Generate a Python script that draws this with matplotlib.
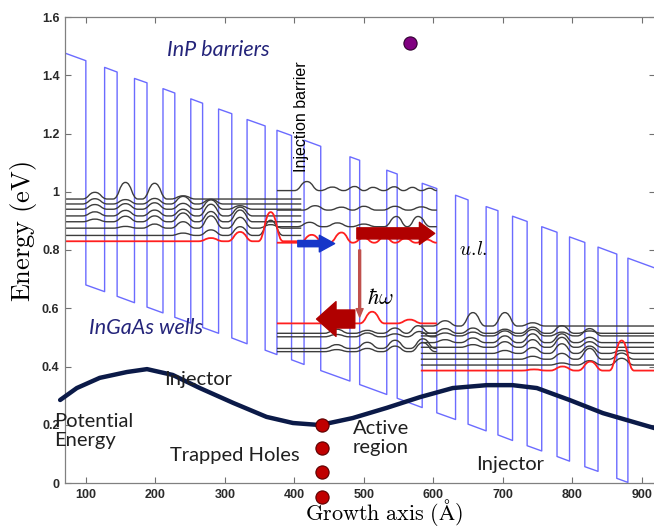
import matplotlib
matplotlib.use('Agg')
import matplotlib.pyplot as plt
from matplotlib.path import Path
from matplotlib.patches import PathPatch, FancyArrowPatch

plt.rcParams['mathtext.fontset'] = 'cm'

# conduction band: layer interfaces (A) and band bottom at each interface (eV)
edge_x = [70, 100, 127, 145, 170, 188, 211, 228, 251, 268, 291, 310, 332, 358, 375, 396, 414,
          438, 480, 494, 533, 548, 584, 605, 632, 650, 676, 693, 714, 735, 756, 778, 796, 818,
          837, 864, 880, 919]
edge_E = [0.706, 0.680, 0.657, 0.641, 0.619, 0.604, 0.584, 0.569, 0.549, 0.534, 0.514, 0.498,
          0.478, 0.456, 0.441, 0.423, 0.407, 0.386, 0.350, 0.338, 0.304, 0.291, 0.259, 0.241,
          0.218, 0.202, 0.179, 0.165, 0.146, 0.128, 0.110, 0.091, 0.075, 0.056, 0.040, 0.016,
          0.002, -0.032]
barrier_height = 0.77

# injector states on the left (baseline energy + peaks)
left_span = (70, 410)
left_levels = [0.975, 0.958, 0.940, 0.917, 0.897, 0.875, 0.850]
left_peaks = [
    [(113, 0.998), (157, 1.032), (199, 1.029), (240, 0.986)],
    [(113, 0.976), (157, 0.973), (199, 0.977), (240, 0.984), (280, 0.974)],
    [(113, 0.956), (157, 0.959), (199, 0.962), (240, 0.960), (280, 0.972), (322, 0.952)],
    [(113, 0.931), (157, 0.936), (199, 0.937), (240, 0.940), (280, 0.957), (322, 0.947)],
    [(113, 0.906), (157, 0.916), (199, 0.917), (240, 0.927), (280, 0.932), (322, 0.937)],
    [(157, 0.881), (199, 0.889), (240, 0.897), (280, 0.917), (322, 0.912), (366, 0.887)],
    [(240, 0.858), (280, 0.869), (322, 0.880), (366, 0.902)],
]
left_red_span = (70, 405)
left_red_level = 0.830
left_red_peaks = [(280, 0.841), (322, 0.862), (366, 0.930)]

# active region, upper states
active_span = (375, 605)
upper_levels = [1.004, 0.937, 0.880]
upper_peaks = [
    [(418, 1.035), (455, 1.016), (487, 1.018), (513, 1.015), (544, 1.017), (570, 1.015), (595, 1.012)],
    [(430, 0.952), (468, 0.947), (500, 0.950), (545, 0.950), (583, 0.948)],
    [(422, 0.895), (462, 0.893), (500, 0.889), (547, 0.915), (578, 0.915)],
]
ul_level = 0.825
ul_peaks = [(425, 0.852), (468, 0.860), (500, 0.842), (530, 0.845), (560, 0.840), (590, 0.836)]

# active region, lower states
lower_levels = [0.514, 0.502, 0.462, 0.451]
lower_peaks = [
    [(461, 0.528), (505, 0.524), (545, 0.532), (578, 0.540)],
    [(461, 0.510), (505, 0.515), (545, 0.512), (580, 0.520)],
    [(461, 0.475), (505, 0.483), (545, 0.490), (585, 0.495)],
    [(461, 0.458), (505, 0.462), (545, 0.470), (585, 0.482)],
]
ll_level = 0.548
ll_peaks = [(512, 0.588), (566, 0.561)]

# injector states on the right
right_span = (582, 919)
right_levels = [0.539, 0.514, 0.505, 0.482, 0.466, 0.445, 0.425, 0.405]
right_peaks = [
    [(617, 0.557), (657, 0.585), (703, 0.585), (743, 0.550)],
    [(617, 0.530), (657, 0.532), (703, 0.528), (743, 0.535), (785, 0.540), (825, 0.522)],
    [(617, 0.515), (657, 0.518), (703, 0.522), (743, 0.527), (785, 0.518), (825, 0.530)],
    [(617, 0.492), (657, 0.498), (703, 0.505), (743, 0.512), (785, 0.512), (825, 0.500)],
    [(657, 0.475), (703, 0.485), (743, 0.492), (785, 0.500), (825, 0.485)],
    [(703, 0.455), (743, 0.465), (785, 0.478), (825, 0.470), (871, 0.455)],
    [(743, 0.435), (785, 0.445), (825, 0.462), (871, 0.446)],
    [(785, 0.412), (825, 0.420), (871, 0.428)],
]
right_red_level = 0.386
right_red_peaks = [(745, 0.390), (786, 0.400), (826, 0.417), (871, 0.489)]

# potential energy of trapped holes
pot_x = [63, 87, 120, 159, 188, 225, 264, 312, 360, 398, 437, 484, 533, 581, 628, 677, 714,
         749, 796, 844, 893, 919]
pot_E = [0.285, 0.326, 0.361, 0.381, 0.391, 0.371, 0.326, 0.275, 0.227, 0.206, 0.199, 0.223,
         0.258, 0.295, 0.326, 0.336, 0.336, 0.326, 0.285, 0.240, 0.206, 0.188]

holes_x = [440, 440, 440, 440]
holes_E = [0.199, 0.120, 0.038, -0.048]
electron = (566, 1.51)

# arrows: (x_from, x_to, energy)
inject_arrow = (405, 458, 0.822)
upper_arrow = (490, 602, 0.857)
lower_arrow = (487, 432, 0.563)
photon_arrow = (494, 0.800, 0.570)   # x, E_from, E_to

xticks = [100, 200, 300, 400, 500, 600, 700, 800, 900]
yticks = [0, 0.2, 0.4, 0.6, 0.8, 1.0, 1.2, 1.4, 1.6]
ytick_labels = ['0', '0.2', '0.4', '0.6', '0.8', '1', '1.2', '1.4', '1.6']


def wave_path(x0, x1, base, peaks, half=18):
    # anchors at baseline and at each peak, joined by smooth bezier segments
    pts = [(x0, base)]
    for k, (xp, ep) in enumerate(peaks):
        if k == 0:
            xt = max(x0, xp - half)
        else:
            xt = max((peaks[k - 1][0] + xp) / 2, xp - half)
            pts.append((min((peaks[k - 1][0] + xp) / 2, peaks[k - 1][0] + half), base))
        pts.append((xt, base))
        pts.append((xp, ep))
    if peaks:
        pts.append((min(x1, peaks[-1][0] + half), base))
    pts.append((x1, base))
    verts = [pts[0]]
    codes = [Path.MOVETO]
    for (xa, ya), (xb, yb) in zip(pts[:-1], pts[1:]):
        xm = (xa + xb) / 2
        verts += [(xm, ya), (xm, yb), (xb, yb)]
        codes += [Path.CURVE4] * 3
    return Path(verts, codes)


def draw_wave(ax, span, base, peaks, color, lw):
    ax.add_patch(PathPatch(wave_path(span[0], span[1], base, peaks), fc='none', ec=color,
                           lw=lw, zorder=2))


fig = plt.figure(figsize=(6.54, 5.30), dpi=100)
ax = fig.add_axes([65 / 654, 47 / 530, 590 / 654, 466 / 530])

# band edge
bx, by = [], []
for i in range(len(edge_x) - 1):
    off = barrier_height if i % 2 == 0 else 0
    bx += [edge_x[i], edge_x[i + 1]]
    by += [edge_E[i] + off, edge_E[i + 1] + off]
ax.plot(bx, by, color='#6b6bff', lw=1.0, zorder=1)

black = '#3c3c3c'
red = '#ff1f1f'
for lev, pk in zip(left_levels, left_peaks):
    draw_wave(ax, left_span, lev, pk, black, 1.0)
for lev, pk in zip(upper_levels, upper_peaks):
    draw_wave(ax, active_span, lev, pk, black, 1.0)
for lev, pk in zip(lower_levels, lower_peaks):
    draw_wave(ax, active_span, lev, pk, black, 1.0)
for lev, pk in zip(right_levels, right_peaks):
    draw_wave(ax, right_span, lev, pk, black, 1.0)
draw_wave(ax, left_red_span, left_red_level, left_red_peaks, red, 1.3)
draw_wave(ax, active_span, ul_level, ul_peaks, red, 1.3)
draw_wave(ax, active_span, ll_level, ll_peaks, red, 1.3)
draw_wave(ax, right_span, right_red_level, right_red_peaks, red, 1.3)

ax.plot(pot_x, pot_E, color='#0b1a48', lw=3.2, solid_capstyle='round', zorder=3, clip_on=False)

# arrows
ax.add_patch(FancyArrowPatch((inject_arrow[0], inject_arrow[2]), (inject_arrow[1], inject_arrow[2]),
                             arrowstyle='simple,head_length=11,head_width=12,tail_width=4.5',
                             color='#1636c8', shrinkA=0, shrinkB=0, zorder=4))
ax.add_patch(FancyArrowPatch((upper_arrow[0], upper_arrow[2]), (upper_arrow[1], upper_arrow[2]),
                             arrowstyle='simple,head_length=11,head_width=16,tail_width=8',
                             color='#b00000', shrinkA=0, shrinkB=0, zorder=4))
ax.add_patch(FancyArrowPatch((lower_arrow[0], lower_arrow[2]), (lower_arrow[1], lower_arrow[2]),
                             arrowstyle='simple,head_length=14,head_width=25,tail_width=13',
                             color='#b00000', shrinkA=0, shrinkB=0, zorder=4))
ax.add_patch(FancyArrowPatch((photon_arrow[0], photon_arrow[1]), (photon_arrow[0], photon_arrow[2]),
                             arrowstyle='simple,head_length=6,head_width=5,tail_width=1.4',
                             color='#c0504d', shrinkA=0, shrinkB=0, zorder=4))

ax.plot(holes_x, holes_E, 'o', ms=9.5, mfc='#c00000', mec='#5a0000', mew=0.8, zorder=5, clip_on=False)
ax.plot([electron[0]], [electron[1]], 'o', ms=9.5, mfc='#800080', mec='#300030', mew=0.8, zorder=5)

# labels
lab = ['Lato', 'DejaVu Sans']
ax.text(291, 1.487, 'InP barriers', color='#24247a', fontsize=15.5, style='italic', family=lab,
        ha='center', va='center')
ax.text(186, 0.532, 'InGaAs wells', color='#24247a', fontsize=15.5, style='italic', family=lab,
        ha='center', va='center')
ax.text(410, 1.257, 'Injection barrier', rotation=90, fontsize=11.5, family='Liberation Sans',
        ha='center', va='center')
ax.text(658, 0.803, r'$u.\!l.$', fontsize=14, ha='center', va='center')
ax.text(524, 0.635, r'$\hbar\omega$', fontsize=16, ha='center', va='center')
ax.text(261, 0.354, 'Injector', fontsize=14.5, family=lab, color='#202020', ha='center', va='center')
ax.text(55, 0.178, 'Potential\nEnergy', fontsize=14.5, family=lab, color='#202020',
        ha='left', va='center', linespacing=1.15)
ax.text(314, 0.096, 'Trapped Holes', fontsize=14.5, family=lab, color='#202020',
        ha='center', va='center')
ax.text(484, 0.155, 'Active\nregion', fontsize=14.5, family=lab, color='#202020',
        ha='left', va='center', linespacing=1.15)
ax.text(710, 0.062, 'Injector', fontsize=14.5, family=lab, color='#202020', ha='center', va='center')

ax.set_xlim(70, 919)
ax.set_ylim(0, 1.6)
ax.set_xticks(xticks)
ax.set_yticks(yticks)
ax.set_yticklabels(ytick_labels)
ax.tick_params(direction='in', length=4, width=0.8, color='#707070', top=True, right=True,
               labelsize=9, pad=4)
for lbl in ax.get_xticklabels() + ax.get_yticklabels():
    lbl.set_family('Liberation Sans')
    lbl.set_fontweight('bold')
    lbl.set_color('#2a2a2a')
for sp in ax.spines.values():
    sp.set_color('#808080')
    sp.set_linewidth(0.9)

ax.text(0.54, -0.097, r'$\mathrm{Growth\ axis\ (\AA)}$', transform=ax.transAxes, fontsize=16,
        ha='center', va='bottom')
ax.text(-0.071, 0.54, r'$\mathrm{Energy\ (eV)}$', transform=ax.transAxes, fontsize=19,
        rotation=90, ha='center', va='center')

fig.savefig('out.png', dpi=100)
